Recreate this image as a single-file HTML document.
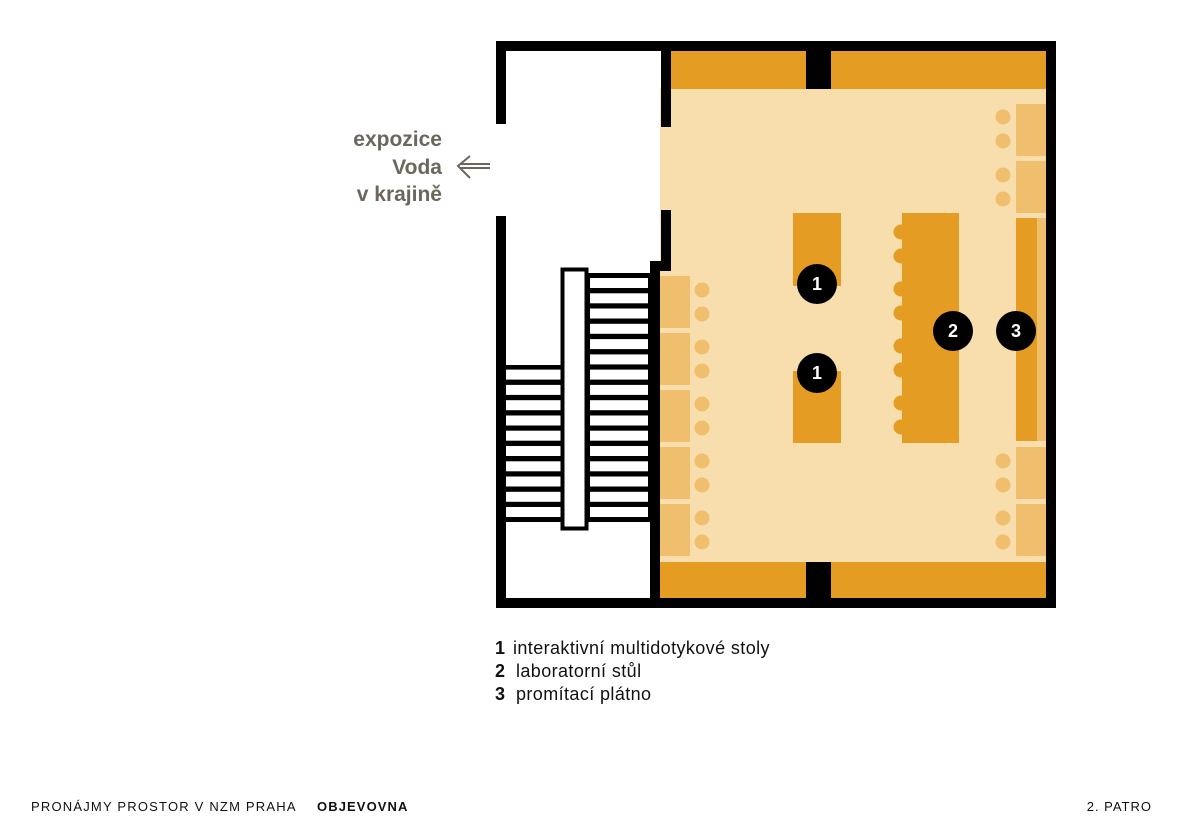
<!DOCTYPE html>
<html><head><meta charset="utf-8"><style>
body{margin:0;background:#fff;width:1185px;height:838px;overflow:hidden}
svg{display:block}
text{font-family:"Liberation Sans","DejaVu Sans",sans-serif}
</style></head><body>
<svg width="1185" height="838" viewBox="0 0 1185 838" xmlns="http://www.w3.org/2000/svg">
<rect x="660" y="89" width="386" height="473" fill="#F8DDAD"/>
<rect x="671" y="51" width="375" height="38" fill="#E59C22"/>
<rect x="660" y="562" width="386" height="36" fill="#E59C22"/>
<rect x="806" y="51" width="25" height="38" fill="#000"/>
<rect x="806" y="562" width="25" height="36" fill="#000"/>
<rect x="496" y="41" width="560" height="10" fill="#000"/>
<rect x="496" y="598" width="560" height="10" fill="#000"/>
<rect x="1046" y="41" width="10" height="567" fill="#000"/>
<rect x="496" y="41" width="10" height="83" fill="#000"/>
<rect x="496" y="216" width="10" height="392" fill="#000"/>
<rect x="661" y="51" width="10" height="76" fill="#000"/>
<rect x="661" y="210" width="10" height="61" fill="#000"/>
<rect x="650" y="261" width="10" height="347" fill="#000"/>
<rect x="650" y="261" width="21" height="10" fill="#000"/>
<g fill="#F0BF6E">
<rect x="660" y="276" width="30" height="52"/><rect x="660" y="333" width="30" height="52"/>
<rect x="660" y="390" width="30" height="52"/><rect x="660" y="447" width="30" height="52"/>
<rect x="660" y="504" width="30" height="52"/>
<circle cx="702" cy="290" r="7.5"/><circle cx="702" cy="314" r="7.5"/>
<circle cx="702" cy="347" r="7.5"/><circle cx="702" cy="371" r="7.5"/>
<circle cx="702" cy="404" r="7.5"/><circle cx="702" cy="428" r="7.5"/>
<circle cx="702" cy="461" r="7.5"/><circle cx="702" cy="485" r="7.5"/>
<circle cx="702" cy="518" r="7.5"/><circle cx="702" cy="542" r="7.5"/>
<rect x="1016" y="104" width="30" height="52"/><rect x="1016" y="161" width="30" height="52"/>
<rect x="1016" y="447" width="30" height="52"/><rect x="1016" y="504" width="30" height="52"/>
<circle cx="1003" cy="117" r="7.5"/><circle cx="1003" cy="141" r="7.5"/>
<circle cx="1003" cy="175" r="7.5"/><circle cx="1003" cy="199" r="7.5"/>
<circle cx="1003" cy="461" r="7.5"/><circle cx="1003" cy="485" r="7.5"/>
<circle cx="1003" cy="518" r="7.5"/><circle cx="1003" cy="542" r="7.5"/>
<rect x="1036" y="218" width="10" height="223"/>
</g>
<rect x="1016" y="218" width="21" height="223" fill="#E59C22"/>
<g fill="#E59C22">
<rect x="902" y="213" width="57" height="230"/>
<circle cx="901" cy="232" r="7.5"/><circle cx="901" cy="256" r="7.5"/>
<circle cx="901" cy="289" r="7.5"/><circle cx="901" cy="313" r="7.5"/>
<circle cx="901" cy="346" r="7.5"/><circle cx="901" cy="370" r="7.5"/>
<circle cx="901" cy="403" r="7.5"/><circle cx="901" cy="427" r="7.5"/>
<rect x="793" y="213" width="48" height="73"/>
<rect x="793" y="371" width="48" height="72"/>
</g>
<g fill="#000"><circle cx="817" cy="284" r="20"/><circle cx="817" cy="373" r="20"/>
<circle cx="953" cy="331" r="20"/><circle cx="1016" cy="331" r="20"/></g>
<g fill="#fff" font-weight="bold" font-size="18" text-anchor="middle">
<text x="817" y="290">1</text><text x="817" y="379">1</text>
<text x="953" y="337">2</text><text x="1016" y="337">3</text></g>
<rect x="588" y="273" width="62" height="249" fill="#000"/>
<rect x="506" y="365" width="56" height="157" fill="#000"/>
<g fill="#fff">
<rect x="590" y="278" width="58" height="10"/><rect x="590" y="293.3" width="58" height="10"/>
<rect x="590" y="308.5" width="58" height="10"/><rect x="590" y="323.8" width="58" height="10"/>
<rect x="590" y="339.1" width="58" height="10"/><rect x="590" y="354.4" width="58" height="10"/>
<rect x="590" y="369.6" width="58" height="10"/><rect x="590" y="384.9" width="58" height="10"/>
<rect x="590" y="400.2" width="58" height="10"/><rect x="590" y="415.5" width="58" height="10"/>
<rect x="590" y="430.7" width="58" height="10"/><rect x="590" y="446" width="58" height="10"/>
<rect x="590" y="461.3" width="58" height="10"/><rect x="590" y="476.5" width="58" height="10"/>
<rect x="590" y="491.8" width="58" height="10"/><rect x="590" y="507" width="58" height="10"/>
<rect x="506" y="369.6" width="55" height="10"/><rect x="506" y="384.9" width="55" height="10"/>
<rect x="506" y="400.2" width="55" height="10"/><rect x="506" y="415.5" width="55" height="10"/>
<rect x="506" y="430.7" width="55" height="10"/><rect x="506" y="446" width="55" height="10"/>
<rect x="506" y="461.3" width="55" height="10"/><rect x="506" y="476.5" width="55" height="10"/>
<rect x="506" y="491.8" width="55" height="10"/><rect x="506" y="507" width="55" height="10"/>
</g>
<rect x="562.5" y="269.5" width="24" height="259" fill="#fff" stroke="#000" stroke-width="4"/>
<g fill="#6b675d" font-weight="bold" font-size="21" text-anchor="end">
<text x="442" y="146">expozice</text><text x="442" y="174">Voda</text><text x="442" y="201">v krajině</text></g>
<g stroke="#6b675d" stroke-width="2" fill="none"><path d="M460 168 H490 M460 164 H490 M470 156 L458 166 L470 178"/></g>
<g font-size="18" fill="#111">
<text x="495" y="654"><tspan font-weight="bold">1</tspan><tspan x="513" letter-spacing="0.4">interaktivní multidotykové stoly</tspan></text>
<text x="495" y="677"><tspan font-weight="bold">2</tspan><tspan x="516" letter-spacing="0.4">laboratorní stůl</tspan></text>
<text x="495" y="700"><tspan font-weight="bold">3</tspan><tspan x="516" letter-spacing="0.4">promítací plátno</tspan></text>
</g>
<g font-size="13" fill="#111">
<text x="31" y="811" letter-spacing="1.2">PRONÁJMY PROSTOR V NZM PRAHA</text>
<text x="317" y="811" font-weight="bold" letter-spacing="1.1">OBJEVOVNA</text>
<text x="1152" y="811" text-anchor="end" letter-spacing="1">2. PATRO</text>
</g>
</svg>
</body></html>
